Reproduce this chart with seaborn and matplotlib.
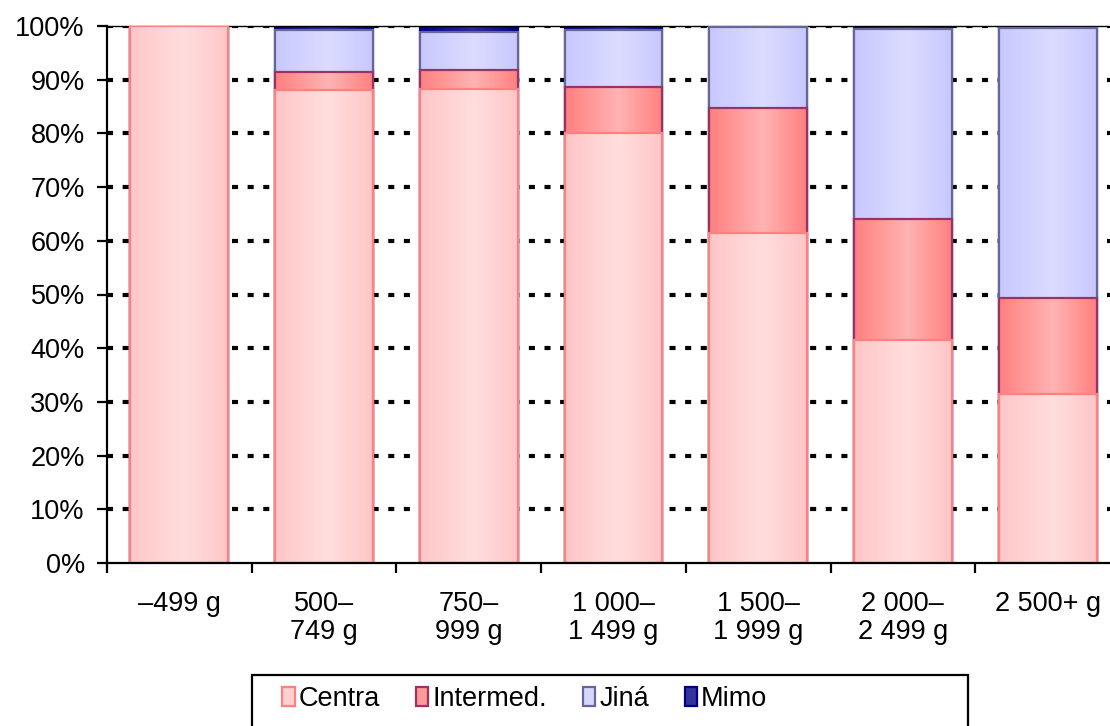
import numpy as np
import pandas as pd
import seaborn as sns
import matplotlib.pyplot as plt
from matplotlib.patches import Patch, Rectangle
from matplotlib.colors import to_rgb

# --- data (percent shares per birth-weight group) ---
categories = ["\u2013499 g", "500\u2013\n749 g", "750\u2013\n999 g", "1 000\u2013\n1 499 g",
              "1 500\u2013\n1 999 g", "2 000\u2013\n2 499 g", "2 500+ g"]
centra = [100.0, 88.1, 88.3, 80.1, 61.5, 41.5, 31.5]
intermed = [0.0, 3.3, 3.5, 8.5, 23.2, 22.6, 17.8]
jina = [0.0, 7.9, 7.1, 10.7, 15.1, 35.4, 50.4]
mimo = [0.0, 0.7, 1.1, 0.7, 0.2, 0.5, 0.3]

series_names = ["Centra", "Intermed.", "Jiná", "Mimo"]
# (edge colour, gradient dark, gradient light)
styles = {
    "Centra": ("#FF8080", "#FFC6C6", "#FFDEDE"),
    "Intermed.": ("#993366", "#FF8080", "#FFB3B3"),
    "Jiná": ("#666699", "#C8C8FF", "#DCDCFF"),
    "Mimo": ("#000080", "#000080", "#2A2A99"),
}
legend_faces = {"Centra": "#FFD0D0", "Intermed.": "#FF9999",
                "Jiná": "#D6D6FF", "Mimo": "#333399"}

FS = 19.5


def gradient(dark, light, n=256, peak=0.55):
    t = np.linspace(0, 1, n)
    f = np.where(t < peak, t / peak, 1 - (t - peak) / (1 - peak))
    d, l = np.array(to_rgb(dark)), np.array(to_rgb(light))
    return (d[None, :] + (l - d)[None, :] * f[:, None])[None, :, :]


def main():
    sns.set_style("white")
    plt.rcParams["font.family"] = ["Liberation Sans", "DejaVu Sans"]
    plt.rcParams["text.color"] = "black"
    plt.rcParams["xtick.color"] = "black"
    plt.rcParams["ytick.color"] = "black"

    df = pd.DataFrame({"cat": categories, "Centra": centra, "Intermed.": intermed,
                       "Jiná": jina, "Mimo": mimo})
    cum = df[series_names].cumsum(axis=1)

    fig = plt.figure(figsize=(11.1, 7.26), dpi=100)
    # plot area runs a little past the right edge of the image
    ax = fig.add_axes([107 / 1110, 1 - 563 / 726, (1120 - 107) / 1110, (563 - 26) / 726])

    # dotted grid
    for v in range(10, 101, 10):
        ax.axhline(v, color="black", lw=3, ls=(0, (1.45, 2.3)), zorder=1)

    # stacked bars as overlapping cumulative bars, top layer first
    for i, name in enumerate(reversed(series_names)):
        z = 2 + i
        edge, dark, light = styles[name]
        n0 = len(ax.patches)
        tmp = pd.DataFrame({"cat": categories, "val": cum[name]})
        sns.barplot(data=tmp, x="cat", y="val", order=categories, color=dark,
                    saturation=1, width=0.677, edgecolor=edge, linewidth=0,
                    ax=ax, zorder=z)
        grad = gradient(dark, light)
        for p in ax.patches[n0:]:
            x0, y0 = p.get_x(), p.get_y()
            w, h = p.get_width(), p.get_height()
            if h <= 0:
                continue
            im = ax.imshow(grad, extent=[x0, x0 + w, y0, y0 + h], aspect="auto",
                           zorder=z + 0.1, interpolation="bilinear")
            im.set_clip_path(p)
            ax.add_patch(Rectangle((x0, y0), w, h, fill=False, edgecolor=edge,
                                   lw=1.6, zorder=z + 0.2))

    ax.set_xlim(-0.5, 6.5)
    ax.set_ylim(0, 100)
    ax.set_xlabel("")
    ax.set_ylabel("")

    ax.set_yticks(range(0, 101, 10))
    ax.set_yticklabels([f"{v}%" for v in range(0, 101, 10)])
    ax.set_xticks(np.arange(-0.5, 7, 1))
    ax.set_xticklabels([""] * 8)
    ax.set_xticks(range(7), minor=True)
    ax.set_xticklabels(categories, minor=True)
    ax.tick_params(axis="x", which="major", length=7, width=1.6, direction="out",
                   bottom=True, color="black")
    ax.tick_params(axis="x", which="minor", length=0, pad=20, labelsize=FS,
                   labelcolor="black")
    ax.tick_params(axis="y", length=7, width=1.6, direction="out", left=True,
                   pad=9, labelsize=FS, color="black", labelcolor="black")
    for lbl in ax.get_xticklabels(minor=True):
        lbl.set_linespacing(1.1)

    for s in ["left", "bottom"]:
        ax.spines[s].set_color("black")
        ax.spines[s].set_linewidth(1.6)
        ax.spines[s].set_zorder(10)
    ax.spines["top"].set_color("black")
    ax.spines["top"].set_linewidth(1.0)
    ax.spines["right"].set_visible(False)

    # legend box (bottom edge runs off the image)
    fig.patches.append(Rectangle((252 / 1110, -0.02), (968 - 252) / 1110,
                                 (726 - 675) / 726 + 0.02, transform=fig.transFigure,
                                 fill=False, edgecolor="black", lw=1.6))
    handles = [Patch(facecolor=legend_faces[n], edgecolor=styles[n][0], lw=1.6, label=n)
               for n in series_names]
    fig.legend(handles=handles, loc="center left", ncol=4,
               bbox_to_anchor=(277 / 1110, 1 - 699 / 726), frameon=False,
               fontsize=FS, handlelength=0.45, handleheight=0.65,
               handletextpad=0.15, columnspacing=1.33,
               borderpad=0.2, borderaxespad=0)

    fig.savefig("out.png", dpi=100)


if __name__ == "__main__":
    main()
